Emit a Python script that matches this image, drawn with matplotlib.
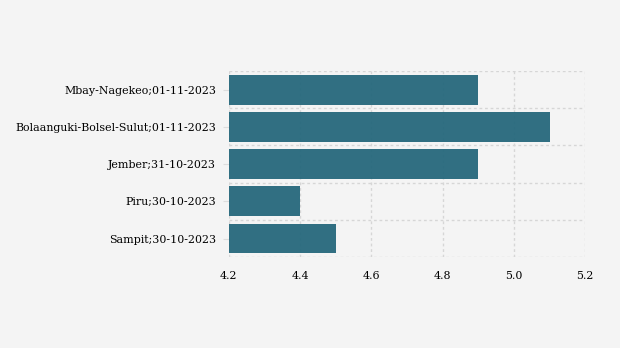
import matplotlib.pyplot as plt
import numpy as np

labels = ["Sampit;30-10-2023", "Piru;30-10-2023", "Jember;31-10-2023",
          "Bolaanguki-Bolsel-Sulut;01-11-2023", "Mbay-Nagekeo;01-11-2023"]
values = [4.5, 4.4, 4.9, 5.1, 4.9]
xticks = [4.2, 4.4, 4.6, 4.8, 5.0, 5.2]

plt.rcParams['font.family'] = 'DejaVu Serif'

fig = plt.figure(figsize=(6.2, 3.48), dpi=100, facecolor='#f4f4f4')
ax = fig.add_axes([0.369, 0.261, 0.575, 0.535])
ax.set_facecolor('#f4f4f4')

y = np.arange(len(labels))
base = xticks[0]
ax.barh(y, np.array(values) - base, left=base, height=0.8, color='#26687c', alpha=0.95, zorder=2)

ax.set_xlim(xticks[0], xticks[-1])
ax.set_ylim(-0.5, len(labels) - 0.5)
ax.set_xticks(xticks)
ax.set_xticklabels([f"{t:.1f}" for t in xticks], fontsize=7.9)
ax.set_yticks(y)
ax.set_yticklabels(labels, fontsize=7.9)
ax.set_yticks(np.arange(-0.5, len(labels), 1.0), minor=True)

ax.grid(axis='x', which='major', color='#d6d6d6', linestyle=(0, (2, 2)), linewidth=1, zorder=1)
ax.grid(axis='y', which='minor', color='#d6d6d6', linestyle=(0, (2, 2)), linewidth=1, zorder=1)
ax.set_axisbelow(True)
ax.tick_params(axis='y', which='major', length=4, color='#dddddd', pad=5)
ax.tick_params(axis='y', which='minor', length=0)
ax.tick_params(axis='x', length=0, pad=10)
for s in ax.spines.values():
    s.set_visible(False)

fig.savefig('out.png', dpi=100, facecolor=fig.get_facecolor())
